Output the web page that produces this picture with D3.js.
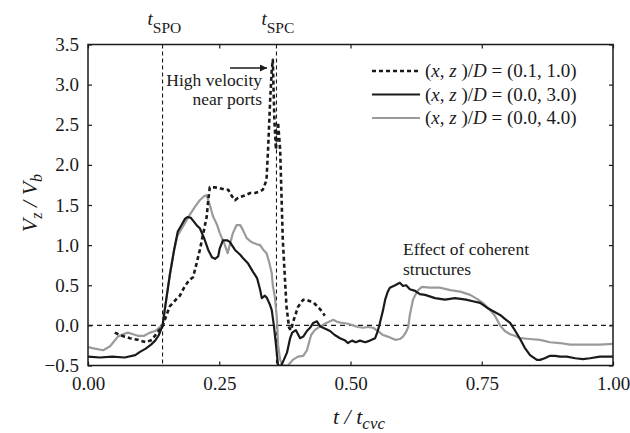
<!DOCTYPE html>
<html>
<head>
<meta charset="utf-8">
<script src="https://cdn.jsdelivr.net/npm/d3@7"></script>
<style>
  body { margin: 0; background: #fff; }
  svg text { font-family: 'Liberation Serif', 'DejaVu Serif', serif; }
</style>
</head>
<body>
<svg id="chart" width="630" height="433"></svg>
<script>
// time fraction of the cycle, t / t_cvc
const xTicks = [0, 0.25, 0.5, 0.75, 1.0]
const yTicks = [-0.5, 0, 0.5, 1.0, 1.5, 2.0, 2.5, 3.0, 3.5]

const tSPO = 0.142
const tSPC = 0.359

// (x, z)/D = (0.1, 1.0)  -- dotted
const tA = [0.051, 0.065, 0.080, 0.095, 0.110, 0.122, 0.133, 0.142, 0.149, 0.156, 0.162, 0.170, 0.175, 0.183, 0.189, 0.194, 0.200, 0.206, 0.213, 0.219, 0.226, 0.229, 0.232, 0.242, 0.251, 0.261, 0.267, 0.274, 0.280, 0.286, 0.290, 0.299, 0.309, 0.318, 0.328, 0.333, 0.340, 0.343, 0.347, 0.350, 0.352, 0.355, 0.358, 0.362, 0.366, 0.371, 0.378, 0.383, 0.387, 0.390, 0.396, 0.400, 0.410, 0.415, 0.423, 0.430, 0.438, 0.446, 0.451]
const vA = [-0.09, -0.13, -0.16, -0.18, -0.21, -0.18, -0.08, -0.01, 0.12, 0.24, 0.28, 0.34, 0.37, 0.47, 0.53, 0.57, 0.60, 0.75, 0.94, 1.13, 1.35, 1.56, 1.72, 1.72, 1.71, 1.69, 1.69, 1.61, 1.56, 1.59, 1.60, 1.62, 1.65, 1.65, 1.67, 1.69, 1.81, 2.19, 2.81, 3.18, 3.31, 2.56, 2.19, 2.53, 2.19, 1.07, 0.24, -0.03, -0.06, 0.03, 0.15, 0.23, 0.32, 0.32, 0.30, 0.28, 0.23, 0.17, 0.12]

// (x, z)/D = (0.0, 3.0)  -- black
const tB = [0.000, 0.023, 0.046, 0.070, 0.090, 0.099, 0.110, 0.120, 0.128, 0.135, 0.142, 0.149, 0.156, 0.164, 0.171, 0.179, 0.185, 0.190, 0.196, 0.202, 0.208, 0.213, 0.221, 0.229, 0.236, 0.242, 0.248, 0.251, 0.257, 0.265, 0.270, 0.280, 0.290, 0.295, 0.305, 0.314, 0.322, 0.328, 0.331, 0.337, 0.341, 0.347, 0.350, 0.354, 0.358, 0.362, 0.368, 0.373, 0.379, 0.385, 0.389, 0.396, 0.404, 0.410, 0.417, 0.423, 0.429, 0.436, 0.442, 0.451, 0.461, 0.470, 0.480, 0.490, 0.495, 0.503, 0.510, 0.518, 0.528, 0.537, 0.547, 0.552, 0.556, 0.562, 0.566, 0.571, 0.575, 0.585, 0.594, 0.600, 0.606, 0.613, 0.623, 0.632, 0.642, 0.661, 0.680, 0.699, 0.720, 0.733, 0.747, 0.760, 0.771, 0.785, 0.794, 0.804, 0.813, 0.823, 0.832, 0.842, 0.855, 0.861, 0.870, 0.880, 0.890, 0.899, 0.912, 0.928, 0.943, 0.956, 0.975, 1.000]
const vB = [-0.39, -0.40, -0.39, -0.40, -0.37, -0.33, -0.29, -0.24, -0.19, -0.12, 0.00, 0.32, 0.63, 0.94, 1.17, 1.26, 1.33, 1.35, 1.34, 1.29, 1.24, 1.21, 1.09, 0.94, 0.85, 0.83, 0.86, 0.96, 1.06, 1.06, 1.04, 0.94, 0.88, 0.84, 0.77, 0.67, 0.59, 0.44, 0.34, 0.37, 0.34, 0.25, 0.19, 0.00, -0.24, -0.50, -0.50, -0.43, -0.34, -0.16, -0.09, -0.06, -0.16, -0.14, -0.07, -0.03, 0.03, 0.05, -0.01, -0.04, -0.07, -0.12, -0.16, -0.19, -0.22, -0.19, -0.21, -0.19, -0.21, -0.19, -0.16, -0.07, 0.03, 0.19, 0.32, 0.42, 0.47, 0.50, 0.53, 0.49, 0.50, 0.45, 0.43, 0.39, 0.38, 0.34, 0.32, 0.34, 0.32, 0.30, 0.28, 0.22, 0.18, 0.13, 0.08, 0.03, -0.06, -0.17, -0.28, -0.37, -0.43, -0.43, -0.41, -0.38, -0.38, -0.39, -0.39, -0.41, -0.42, -0.41, -0.39, -0.39]

// (x, z)/D = (0.0, 4.0)  -- grey
const tC = [0.000, 0.013, 0.029, 0.042, 0.057, 0.067, 0.076, 0.086, 0.095, 0.107, 0.118, 0.128, 0.137, 0.142, 0.149, 0.156, 0.164, 0.170, 0.177, 0.185, 0.194, 0.204, 0.213, 0.221, 0.226, 0.232, 0.238, 0.246, 0.251, 0.259, 0.266, 0.270, 0.276, 0.283, 0.290, 0.295, 0.302, 0.309, 0.314, 0.322, 0.328, 0.333, 0.340, 0.345, 0.350, 0.352, 0.356, 0.360, 0.362, 0.366, 0.371, 0.381, 0.390, 0.400, 0.410, 0.417, 0.425, 0.432, 0.438, 0.446, 0.451, 0.461, 0.467, 0.476, 0.486, 0.495, 0.505, 0.514, 0.524, 0.533, 0.543, 0.552, 0.562, 0.571, 0.585, 0.594, 0.600, 0.606, 0.610, 0.613, 0.619, 0.625, 0.629, 0.636, 0.651, 0.670, 0.690, 0.709, 0.728, 0.741, 0.752, 0.766, 0.775, 0.785, 0.794, 0.804, 0.813, 0.823, 0.842, 0.861, 0.880, 0.899, 0.918, 0.943, 0.975, 1.000]
const vC = [-0.27, -0.29, -0.31, -0.26, -0.14, -0.11, -0.09, -0.11, -0.13, -0.13, -0.09, -0.07, -0.02, 0.00, 0.32, 0.65, 0.94, 1.11, 1.19, 1.28, 1.38, 1.48, 1.56, 1.61, 1.62, 1.50, 1.36, 1.25, 1.15, 1.03, 0.90, 1.00, 1.15, 1.25, 1.25, 1.19, 1.09, 1.05, 1.03, 1.01, 1.00, 0.95, 0.90, 0.79, 0.65, 0.50, 0.35, 0.07, -0.24, -0.43, -0.50, -0.50, -0.43, -0.39, -0.38, -0.31, -0.12, -0.06, -0.03, 0.00, 0.02, 0.05, 0.07, 0.04, 0.03, 0.02, 0.00, -0.02, -0.03, -0.02, -0.03, -0.07, -0.12, -0.14, -0.18, -0.17, -0.14, -0.08, -0.02, 0.13, 0.32, 0.40, 0.44, 0.48, 0.47, 0.47, 0.44, 0.42, 0.38, 0.33, 0.28, 0.19, 0.12, 0.00, -0.07, -0.11, -0.13, -0.16, -0.17, -0.18, -0.21, -0.22, -0.24, -0.24, -0.24, -0.23]

const legendLabels = ['(0.1, 1.0)', '(0.0, 3.0)', '(0.0, 4.0)']

const margin = { left: 88, right: 17, top: 44.5, bottom: 67.5 }
const size = { width: 630, height: 433 }
const ink = '#1a1a1a'
const grey = '#9a9a9a'
const serif = "'Liberation Serif', 'DejaVu Serif', serif"

const svg = d3.select('#chart')

const xScale = d3.scaleLinear()
    .domain([0, 1])
    .range([margin.left, size.width - margin.right])

const yScale = d3.scaleLinear()
    .domain([-0.5, 3.5])
    .range([size.height - margin.bottom, margin.top])

const x0 = xScale.range()[0], x1 = xScale.range()[1]
const y0 = yScale.range()[0], y1 = yScale.range()[1]

// axes, ticks pointing inward
svg.append('g')
    .attr('transform', `translate(0, ${y0})`)
    .call(d3.axisBottom(xScale).tickValues(xTicks).tickFormat(d3.format('.2f')).tickSize(-4).tickPadding(11))
    .call(g => g.select('.domain').remove())

svg.append('g')
    .attr('transform', `translate(0, ${y1})`)
    .call(d3.axisTop(xScale).tickValues(xTicks).tickFormat('').tickSize(-4))
    .call(g => g.select('.domain').remove())

svg.append('g')
    .attr('transform', `translate(${x0}, 0)`)
    .call(d3.axisLeft(yScale).tickValues(yTicks).tickFormat(d3.format('.1f')).tickSize(-4).tickPadding(9))
    .call(g => g.select('.domain').remove())

svg.append('g')
    .attr('transform', `translate(${x1}, 0)`)
    .call(d3.axisRight(yScale).tickValues(yTicks).tickFormat('').tickSize(-4))
    .call(g => g.select('.domain').remove())

svg.selectAll('g').attr('font-family', serif)
svg.selectAll('.tick line').attr('stroke', ink).attr('stroke-width', 1.2)
svg.selectAll('.tick text')
    .attr('fill', ink)
    .style('font-size', '19px')

// reference lines
svg.append('line')
    .attr('x1', x0).attr('x2', x1)
    .attr('y1', yScale(0)).attr('y2', yScale(0))
    .attr('stroke', ink).attr('stroke-width', 1.1)
    .attr('stroke-dasharray', '5,4')

;[tSPO, tSPC].forEach(t => {
    svg.append('line')
        .attr('x1', xScale(t)).attr('x2', xScale(t))
        .attr('y1', y1).attr('y2', y0)
        .attr('stroke', ink).attr('stroke-width', 1.1)
        .attr('stroke-dasharray', '4,3')
})

// curves
svg.append('clipPath').attr('id', 'plot-clip')
    .append('rect')
    .attr('x', x0).attr('y', y1)
    .attr('width', x1 - x0).attr('height', y0 - y1)

const line = d3.line()
    .x(d => xScale(d[0]))
    .y(d => yScale(d[1]))

const series = [
    { t: tC, v: vC, color: grey, width: 2.2, dash: null },
    { t: tB, v: vB, color: ink, width: 2.2, dash: null },
    { t: tA, v: vA, color: ink, width: 2.6, dash: '4,3' }
]

const curves = svg.append('g').attr('clip-path', 'url(#plot-clip)')
series.forEach(s => {
    curves.append('path')
        .datum(s.t.map((t, i) => [t, s.v[i]]))
        .attr('d', line)
        .attr('fill', 'none')
        .attr('stroke', s.color)
        .attr('stroke-width', s.width)
        .attr('stroke-linejoin', 'round')
        .attr('stroke-dasharray', s.dash)
})

// frame
svg.append('rect')
    .attr('x', x0).attr('y', y1)
    .attr('width', x1 - x0).attr('height', y0 - y1)
    .attr('fill', 'none')
    .attr('stroke', ink)
    .attr('stroke-width', 1.5)

// t_SPO / t_SPC labels above the frame
;[['SPO', tSPO], ['SPC', tSPC]].forEach(([sub, t]) => {
    const lab = svg.append('text')
        .attr('x', xScale(t) - 15)
        .attr('y', 25)
        .attr('fill', ink)
    lab.append('tspan').text('t').style('font-style', 'italic').style('font-size', '19px')
    lab.append('tspan').text(sub).attr('dy', 8).style('font-size', '15.5px')
})

// legend
const legendStyles = [series[2], series[1], series[0]]
const legend = svg.append('g')
legendLabels.forEach((lbl, i) => {
    const yy = 71 + i * 23.5
    legend.append('line')
        .attr('x1', 372).attr('x2', 420)
        .attr('y1', yy).attr('y2', yy)
        .attr('stroke', legendStyles[i].color)
        .attr('stroke-width', legendStyles[i].width)
        .attr('stroke-dasharray', legendStyles[i].dash)
    const tx = legend.append('text')
        .attr('x', 425).attr('y', yy + 6)
        .attr('fill', ink)
        .style('font-size', '19px')
    tx.append('tspan').text('(')
    tx.append('tspan').text('x').style('font-style', 'italic')
    tx.append('tspan').text(', ')
    tx.append('tspan').text('z').style('font-style', 'italic')
    tx.append('tspan').text(' )/')
    tx.append('tspan').text('D').style('font-style', 'italic')
    tx.append('tspan').text(' = ' + lbl)
})

// annotations
svg.append('text').attr('x', 262).attr('y', 86).attr('text-anchor', 'end')
    .attr('fill', ink).style('font-size', '17.5px').text('High velocity')
svg.append('text').attr('x', 262).attr('y', 105).attr('text-anchor', 'end')
    .attr('fill', ink).style('font-size', '17.5px').text('near ports')

svg.append('defs').append('marker')
    .attr('id', 'arrow')
    .attr('viewBox', '0 0 10 10')
    .attr('refX', 10).attr('refY', 5)
    .attr('markerWidth', 10).attr('markerHeight', 7)
    .attr('markerUnits', 'userSpaceOnUse')
    .attr('orient', 'auto')
    .append('path').attr('d', 'M0,0 L10,5 L0,10 Z').attr('fill', ink)

svg.append('line')
    .attr('x1', 230).attr('x2', 267)
    .attr('y1', 68).attr('y2', 68)
    .attr('stroke', ink).attr('stroke-width', 1.4)
    .attr('marker-end', 'url(#arrow)')

svg.append('text').attr('x', 403).attr('y', 255)
    .attr('fill', ink).style('font-size', '17.5px').text('Effect of coherent')
svg.append('text').attr('x', 403).attr('y', 275)
    .attr('fill', ink).style('font-size', '17.5px').text('structures')

// axis titles
const xTitle = svg.append('text')
    .attr('x', 333).attr('y', 424)
    .attr('fill', ink)
    .style('font-size', '22px')
xTitle.append('tspan').text('t / t').style('font-style', 'italic')
xTitle.append('tspan').text('cvc').attr('dy', 5).style('font-style', 'italic').style('font-size', '17px')

const yTitle = svg.append('text')
    .attr('transform', 'translate(37, 203) rotate(-90)')
    .attr('text-anchor', 'middle')
    .attr('fill', ink)
    .style('font-size', '22px')
    .style('font-style', 'italic')
yTitle.append('tspan').text('V')
yTitle.append('tspan').text('z').attr('dy', 5).style('font-size', '16px')
yTitle.append('tspan').text(' / V').attr('dy', -5)
yTitle.append('tspan').text('b').attr('dy', 5).style('font-size', '16px')
</script>
</body>
</html>
